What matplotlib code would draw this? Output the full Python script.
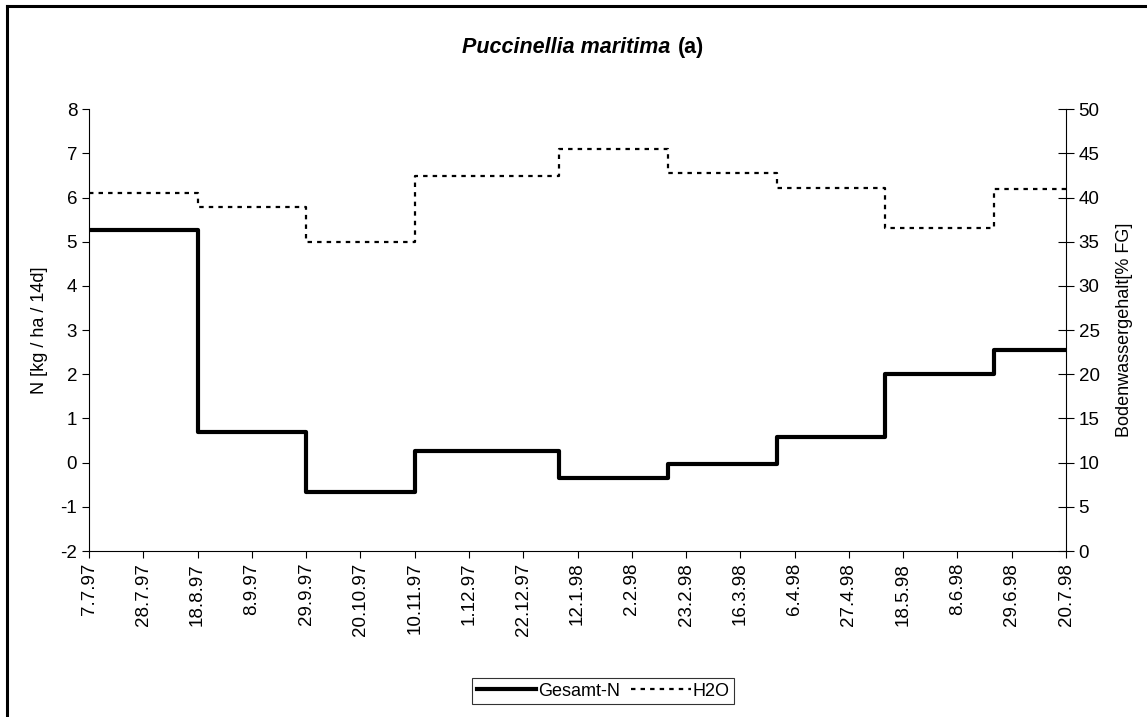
import datetime as dt
import matplotlib
matplotlib.use("Agg")
from matplotlib import pyplot as plt
from matplotlib.lines import Line2D

plt.rcParams['font.family'] = ['Liberation Sans', 'DejaVu Sans']
plt.rcParams['axes.unicode_minus'] = False

# sampling periods (start dates), values hold until next start
start = dt.date(1997, 7, 7)
end = dt.date(1998, 7, 20)
period_days = [0, 42, 84, 126, 182, 224, 266, 308, 350]
gesamt_n = [5.27, 0.70, -0.66, 0.27, -0.35, -0.03, 0.57, 2.00, 2.54]
h2o = [40.5, 38.9, 35.0, 42.45, 45.5, 42.8, 41.1, 36.6, 41.0]
tick_step = 21

x = [start + dt.timedelta(days=d) for d in period_days] + [end]
n_vals = gesamt_n + [gesamt_n[-1]]
h_vals = h2o + [h2o[-1]]

W, H = 1147, 717
fig = plt.figure(figsize=(W / 100, H / 100), dpi=100)
ax = fig.add_axes([89 / W, 1 - 551 / H, (1066 - 89) / W, (551 - 109.3) / H])
ax2 = ax.twinx()

l1, = ax.step(x, n_vals, where='post', color='black', lw=3.0, label='Gesamt-N')
l2, = ax2.step(x, h_vals, where='post', color='black', lw=1.6, label='H2O',
               linestyle=(0, (2, 2.3)))

ax.set_xlim(start, end)
ax.set_ylim(-2, 8)
ax2.set_ylim(0, 50)
ax.set_yticks(range(-2, 9))
ax2.set_yticks(range(0, 51, 5))

ticks = []
d = start
while d <= end:
    ticks.append(d)
    d += dt.timedelta(days=tick_step)
ax.set_xticks(ticks)
ax.set_xticklabels([f"{t.day}.{t.month}.{t.strftime('%y')}" for t in ticks],
                   rotation=90)

for a in (ax, ax2):
    a.spines['top'].set_visible(False)
    a.tick_params(labelsize=13.5, length=5, width=0.8)
ax.spines['right'].set_visible(False)
ax2.spines['left'].set_visible(False)
ax2.spines['bottom'].set_visible(False)
ax2.tick_params(axis='y', direction='inout', length=11)

ax.set_ylabel('N [kg / ha / 14d]', fontsize=13, labelpad=9)
ax2.set_ylabel('Bodenwassergehalt[% FG]', fontsize=13, labelpad=12)

fig.text(670 / W, 1 - 53 / H, 'Puccinellia maritima', ha='right', va='baseline',
         fontsize=15.5, fontweight='bold', fontstyle='italic')
fig.text(678 / W, 1 - 53 / H, '(a)', ha='left', va='baseline',
         fontsize=15.5, fontweight='bold')

leg = fig.legend(handles=[l1, l2], loc='center', bbox_to_anchor=(603 / W, 1 - 691 / H),
                 ncol=2, frameon=True, fancybox=False, edgecolor='black',
                 fontsize=13, handlelength=3.3, columnspacing=0.6, handletextpad=0.1,
                 borderpad=0.25, borderaxespad=0)
leg.get_frame().set_linewidth(0.8)

# outer chart frame (top and left edges visible)
fig.add_artist(Line2D([7 / W, 7 / W], [0, 1 - 6 / H], color='black', lw=2.2,
                      transform=fig.transFigure))
fig.add_artist(Line2D([7 / W, 1], [1 - 6 / H, 1 - 6 / H], color='black', lw=2.2,
                      transform=fig.transFigure))

fig.savefig('out.png', dpi=100)
